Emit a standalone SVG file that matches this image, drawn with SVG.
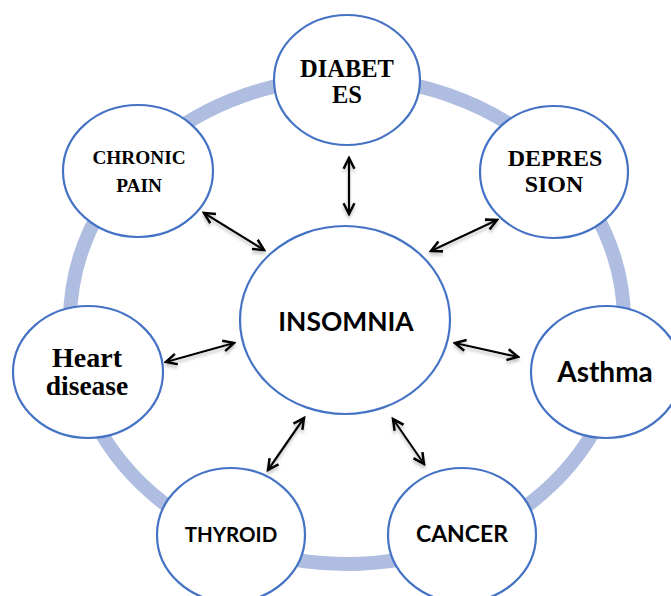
<svg xmlns="http://www.w3.org/2000/svg" width="671" height="596" viewBox="0 0 671 596">
<defs>
<style>
.node{fill:#ffffff;stroke:#4472c4;stroke-width:2.2}
.serif{font-family:"Liberation Serif","Times New Roman",serif;font-weight:bold;fill:#000;text-anchor:middle}
.sans{font-family:Lato,"Open Sans","Liberation Sans",sans-serif;font-weight:bold;fill:#000;text-anchor:middle}
.arrow{stroke:#000;stroke-width:2.2;fill:none;marker-start:url(#ah);marker-end:url(#ah)}
#connectors{filter:url(#shadow)}
</style>
<marker id="ah" viewBox="0 0 10 10" refX="8.5" refY="5" markerWidth="6.5" markerHeight="6.5" orient="auto-start-reverse" markerUnits="strokeWidth">
<path d="M1,1.2 L8.5,5 L1,8.8" fill="none" stroke="#000" stroke-width="1.8"/>
</marker>
<filter id="shadow" x="-20%" y="-20%" width="140%" height="140%"><feDropShadow dx="0" dy="3" stdDeviation="1.5" flood-color="#808080" flood-opacity="0.45"/></filter>
</defs>
<rect width="671" height="596" fill="#ffffff"/>
<ellipse id="ring" cx="347" cy="321" rx="277" ry="243" fill="none" stroke="#aebde0" stroke-width="14"/>
<g id="connectors">
<line class="arrow" x1="349" y1="158" x2="349" y2="214"/>
<line class="arrow" x1="204" y1="213" x2="264" y2="250"/>
<line class="arrow" x1="497" y1="220" x2="431" y2="251"/>
<line class="arrow" x1="166" y1="362" x2="234" y2="343"/>
<line class="arrow" x1="455" y1="343" x2="518" y2="357"/>
<line class="arrow" x1="304" y1="418" x2="268" y2="470"/>
<line class="arrow" x1="393" y1="419" x2="424" y2="464"/>
</g>
<g id="insomnia"><ellipse class="node" cx="345" cy="320" rx="105" ry="94"/><text class="sans" x="346" y="331" font-size="26.4">INSOMNIA</text></g>
<g id="diabetes"><ellipse class="node" cx="347" cy="80" rx="73" ry="65"/><text class="serif" x="347" y="77" font-size="24.5">DIABET</text><text class="serif" x="347" y="103" font-size="24.5">ES</text></g>
<g id="chronic-pain"><ellipse class="node" cx="138" cy="171" rx="75" ry="66"/><text class="serif" x="139" y="164" font-size="19.3">CHRONIC</text><text class="serif" x="139" y="192" font-size="19.3">PAIN</text></g>
<g id="depression"><ellipse class="node" cx="554" cy="172" rx="74" ry="66"/><text class="serif" x="555" y="166" font-size="24">DEPRES</text><text class="serif" x="554" y="192" font-size="24">SION</text></g>
<g id="heart-disease"><ellipse class="node" cx="88" cy="372" rx="75" ry="66"/><text class="serif" x="87" y="367" font-size="28">Heart</text><text class="serif" x="87" y="395" font-size="27.5">disease</text></g>
<g id="asthma"><ellipse class="node" cx="606" cy="372" rx="75" ry="66"/><text class="sans" x="605" y="382" font-size="28">Asthma</text></g>
<g id="thyroid"><ellipse class="node" cx="231" cy="535" rx="74" ry="67"/><text class="sans" x="231" y="542" font-size="20.5">THYROID</text></g>
<g id="cancer"><ellipse class="node" cx="462" cy="535" rx="74" ry="67"/><text class="sans" x="462" y="542" font-size="23">CANCER</text></g>
</svg>
